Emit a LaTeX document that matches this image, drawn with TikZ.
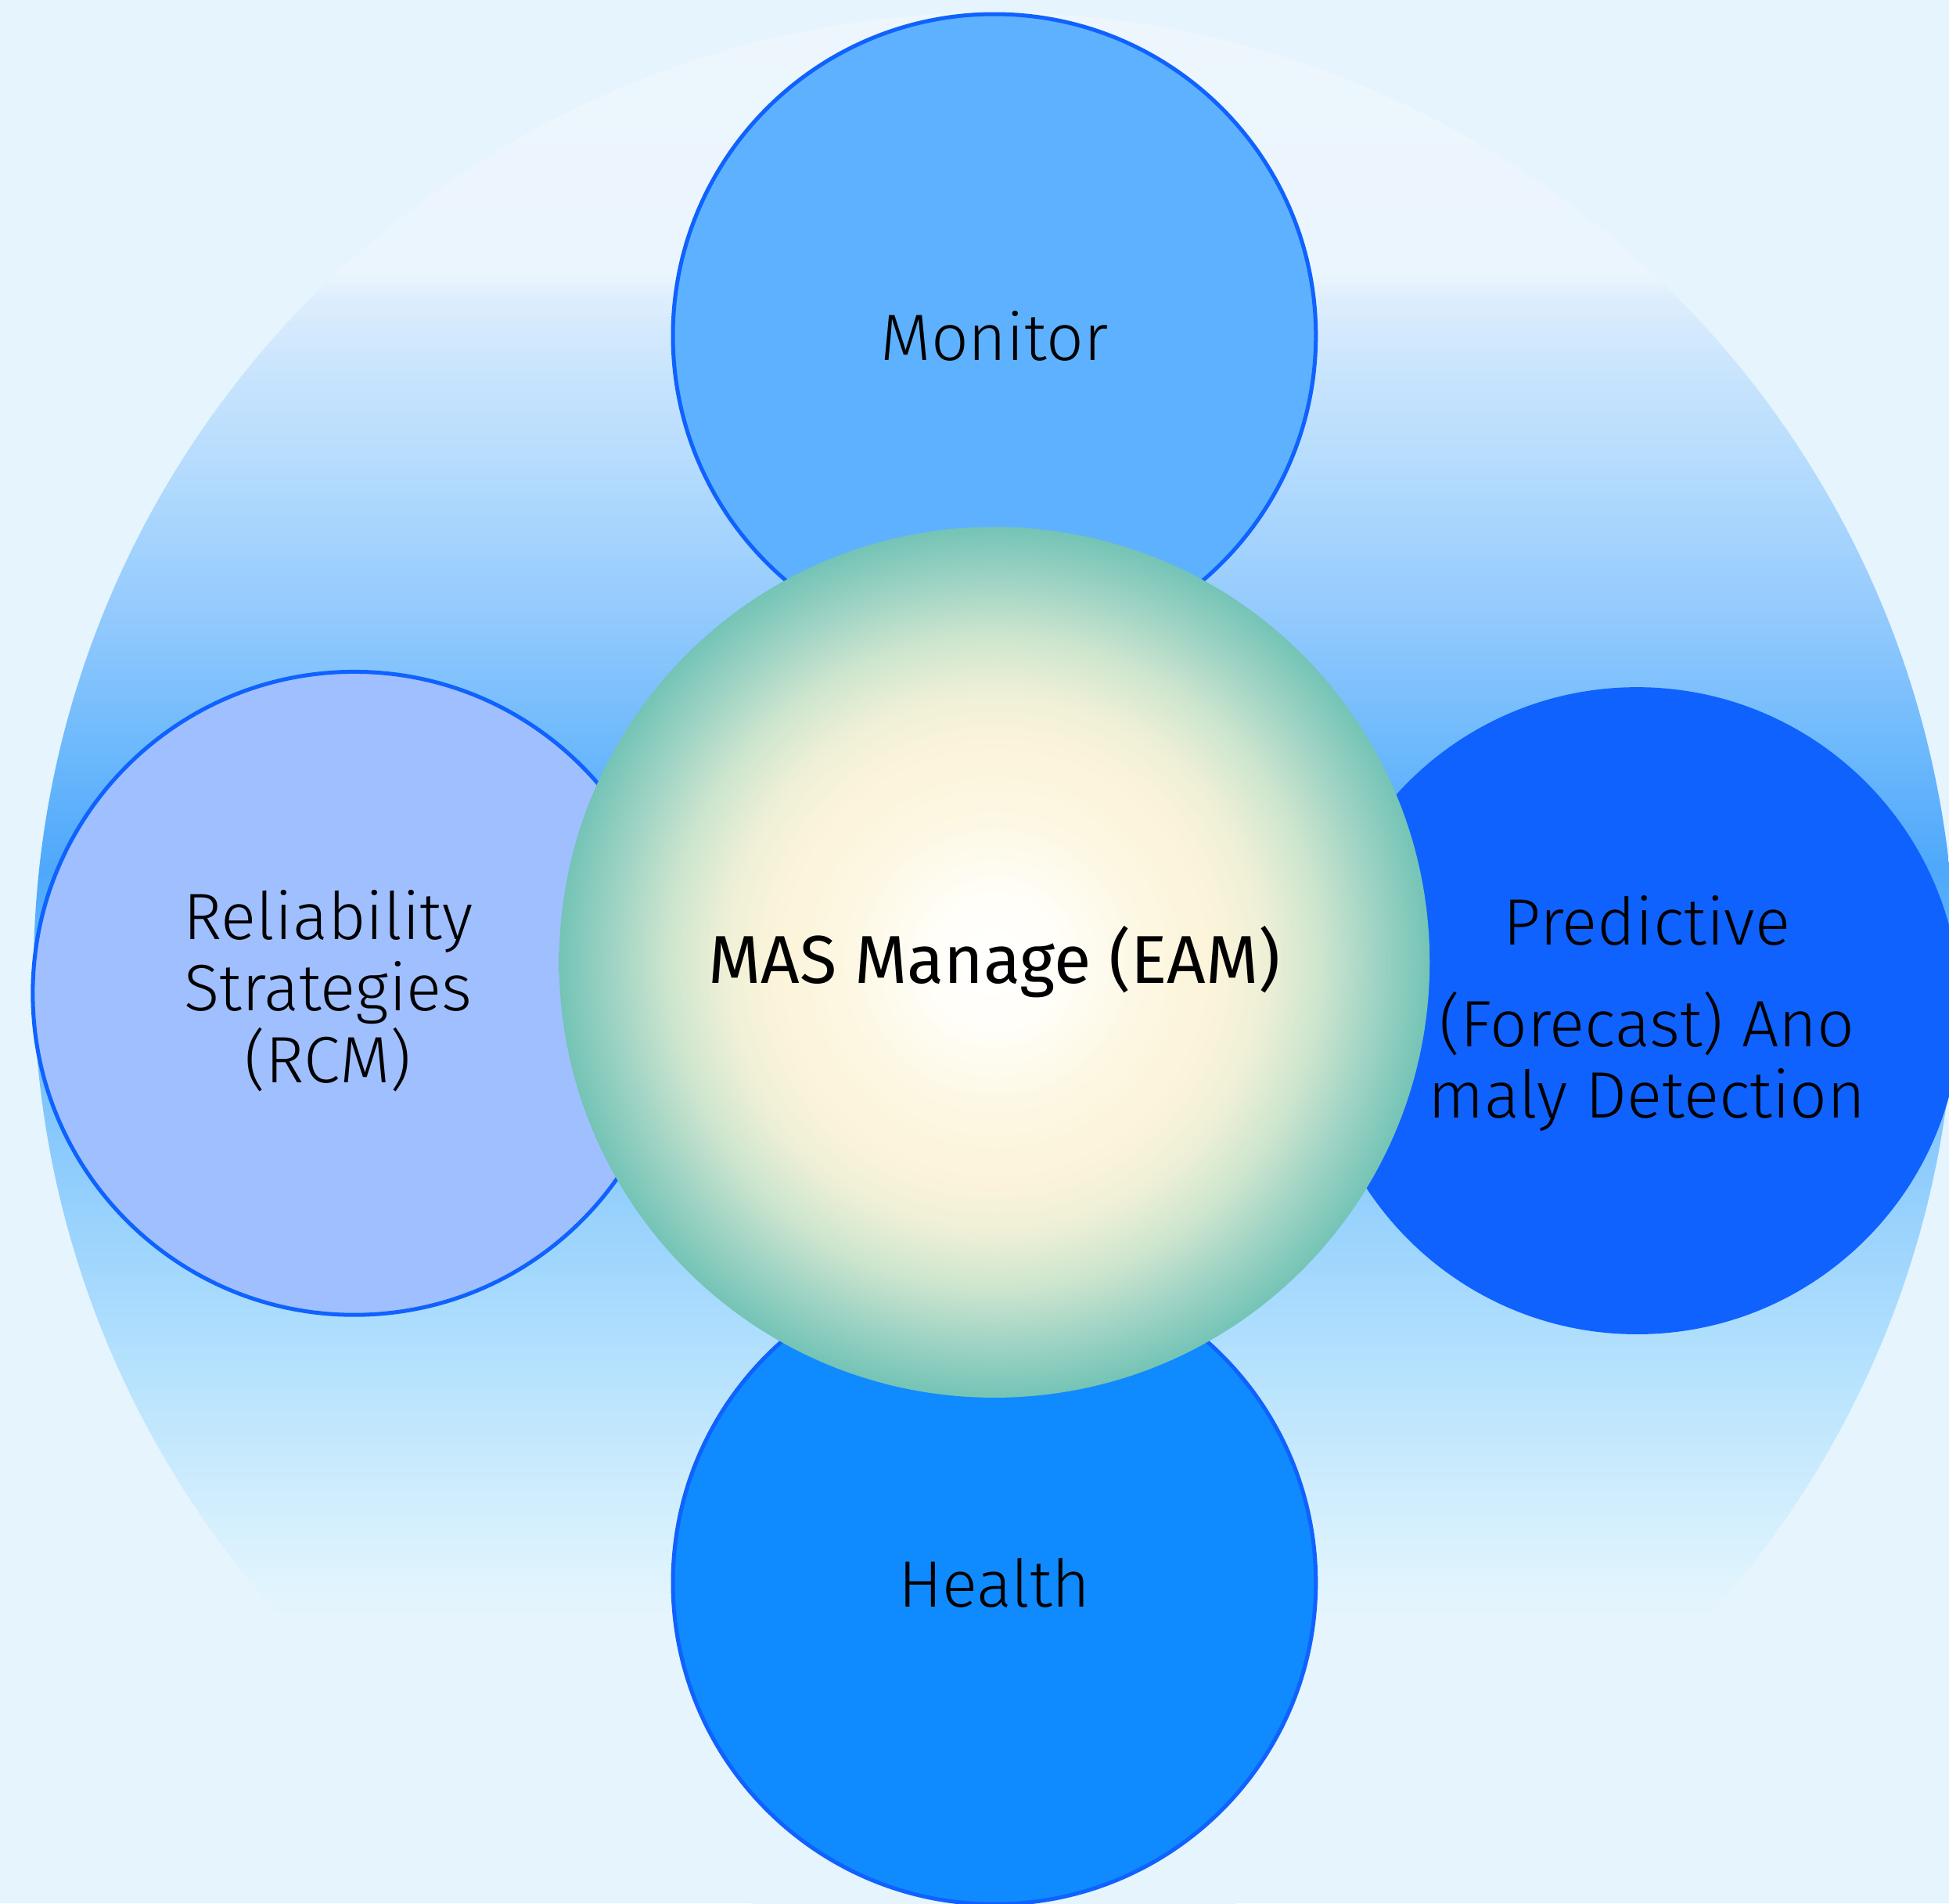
\documentclass[tikz,border=0pt]{standalone}
\usepackage{fontspec}
\setmainfont{Fira Sans}
\newfontfamily\lightsans{Fira Sans Light}
\usetikzlibrary{positioning}

\definecolor{skybg}{HTML}{E5F4FD}
\definecolor{rimblue}{HTML}{0F62FE}
\definecolor{monfill}{HTML}{5EB1FE}
\definecolor{hlthfill}{HTML}{108AFF}
\definecolor{relfill}{HTML}{A0BFFE}
\definecolor{predfill}{HTML}{0F62FE}

\pgfdeclareverticalshading{skyband}{100bp}{%
  color(0bp)=(skybg); color(33.3bp)=(skybg);
  color(34.1bp)=(rgb,255:red,224;green,244;blue,253);
  color(35.8bp)=(rgb,255:red,212;green,239;blue,253);
  color(37.9bp)=(rgb,255:red,196;green,232;blue,253);
  color(40.7bp)=(rgb,255:red,174;green,222;blue,253);
  color(45.3bp)=(rgb,255:red,140;green,203;blue,253);
  color(49.5bp)=(rgb,255:red,103;green,185;blue,252);
  color(52.7bp)=(rgb,255:red,78;green,168;blue,251);
  color(55.7bp)=(rgb,255:red,107;green,184;blue,252);
  color(58.9bp)=(rgb,255:red,143;green,200;blue,253);
  color(63.3bp)=(rgb,255:red,182;green,220;blue,253);
  color(65.6bp)=(rgb,255:red,200;green,228;blue,253);
  color(67.5bp)=(rgb,255:red,221;green,237;blue,253);
  color(68.2bp)=(rgb,255:red,235;green,245;blue,253);
  color(75bp)=(rgb,255:red,237;green,246;blue,253);
  color(100bp)=(rgb,255:red,237;green,246;blue,253)}

\pgfdeclareradialshading{coreglow}{\pgfpoint{0bp}{0bp}}{%
  color(0bp)=(white);
  color(3.75bp)=(rgb,255:red,255;green,254;blue,248);
  color(8.75bp)=(rgb,255:red,253;green,247;blue,226);
  color(12.5bp)=(rgb,255:red,252;green,244;blue,218);
  color(15.5bp)=(rgb,255:red,238;green,240;blue,214);
  color(18.75bp)=(rgb,255:red,205;green,229;blue,206);
  color(22bp)=(rgb,255:red,158;green,211;blue,196);
  color(25bp)=(rgb,255:red,116;green,196;blue,182);
  color(50bp)=(rgb,255:red,116;green,196;blue,182)}

\begin{document}
\begin{tikzpicture}[x=0.01cm, y=-0.01cm,
    BUBL/.style = {circle,
                   draw=rimblue, line width=0.9pt,
                   fill=#1,
                   minimum size=5.17cm,
                   font=\lightsans\fontsize{15}{16.3}\selectfont,
                   inner sep=0pt, outer sep=0pt},
    LBL/.style  = {font=\lightsans\fontsize{15}{16.3}\selectfont,
                   align=center, inner sep=0pt}
                            ]

    % backdrop
    \fill[skybg] (0,0) rectangle (1568,1531);
    \useasboundingbox (0,0) rectangle (1568,1531);
    \shade[shading=skyband] (800,783) circle (773);

    \node (mon)  [BUBL=monfill]  at (800,270)  {Monitor};
    \node (hlth) [BUBL=hlthfill] at (800,1273) {Health};
    \node (rel)  [BUBL=relfill]  at (285,799)  {};
    \node (pred) [BUBL=predfill] at (1317,813) {};

    \node (core) [circle, shade, shading=coreglow,
                  minimum size=7cm, inner sep=0pt, outer sep=0pt,
                  font=\fontsize{15.5}{18}\selectfont]
                  at (800,774) {MAS Manage (EAM)};

    \node (reltxt)  [LBL] at (264,797)  {Reliability\\Strategies\\(RCM)};
    \node (predtxt) [LBL] at (1325,815) {Predictive\\[7pt](Forecast) Ano\\maly Detection};
\end{tikzpicture}
\end{document}
